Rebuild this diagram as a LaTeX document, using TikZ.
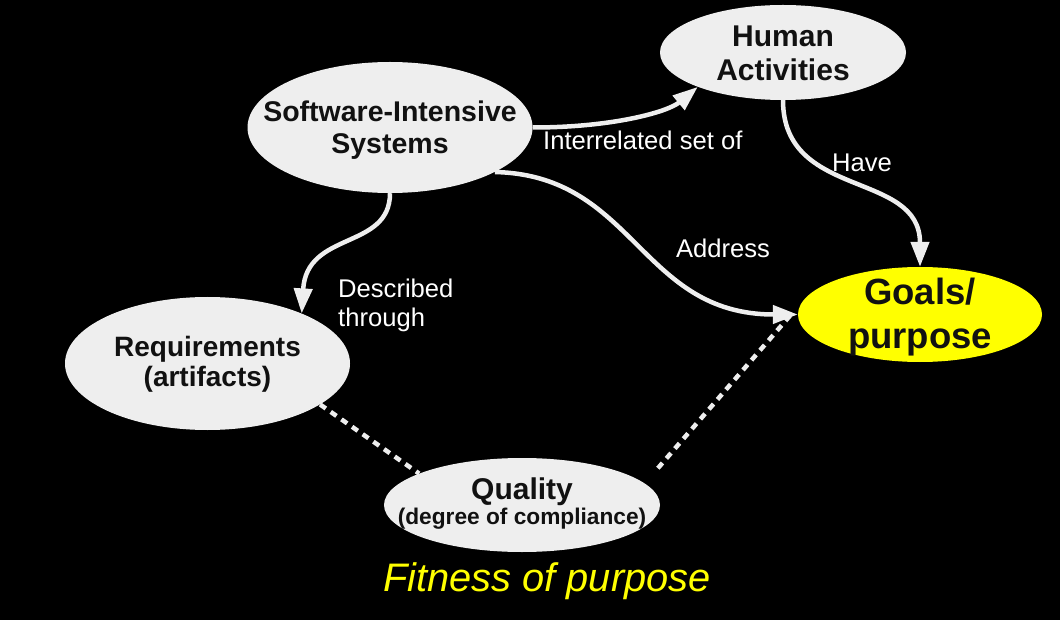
\documentclass[tikz,border=0pt]{standalone}
\usepackage{fontspec}
\setmainfont{Liberation Sans}
\usetikzlibrary{shapes.geometric,arrows.meta}
\definecolor{nodegray}{HTML}{EEEEEE}
\definecolor{txtdark}{HTML}{111111}
\definecolor{goalyellow}{HTML}{FFFF00}
\tikzset{
  ell/.style={ellipse, fill=nodegray, inner sep=0pt},
  ntext/.style={text=txtdark, inner sep=0pt},
  arr/.style={draw=nodegray, line width=4.5pt, -{Triangle[length=25pt,width=18pt]}},
  dotl/.style={draw=nodegray, line width=4.5pt, dash pattern=on 7pt off 6pt},
  lab/.style={text=white, inner sep=0pt, font=\fontsize{25.6}{29}\selectfont},
}
\begin{document}
\begin{tikzpicture}[x=1pt,y=-1pt]
\fill[black] (0,0) rectangle (1060,620);
\useasboundingbox (0,0) rectangle (1060,620);

\node[ell, minimum width=285pt, minimum height=131pt,
  label={[name=sist, ntext, yshift=-3.7pt, font=\bfseries\fontsize{28.5}{31.5}\selectfont]center:{\begin{tabular}{@{}c@{}}Software-Intensive\\Systems\end{tabular}}}]
  (sis) at (390,127.5) {};
\node[ell, minimum width=246pt, minimum height=95pt,
  label={[name=humt, ntext, yshift=-4.5pt, font=\bfseries\fontsize{30}{33.5}\selectfont]center:{\begin{tabular}{@{}c@{}}Human\\Activities\end{tabular}}}]
  (hum) at (783,52.5) {};
\node[ell, fill=goalyellow, minimum width=244pt, minimum height=95pt,
  label={[name=goalt, ntext, yshift=-3.4pt, font=\bfseries\fontsize{36.5}{43}\selectfont]center:{\begin{tabular}{@{}c@{}}Goals/\\purpose\end{tabular}}}]
  (goals) at (920,314.5) {};
\node[ell, minimum width=285pt, minimum height=133pt,
  label={[name=reqt, ntext, yshift=-2.2pt, font=\bfseries\fontsize{28}{30}\selectfont]center:{\begin{tabular}{@{}c@{}}Requirements\\(artifacts)\end{tabular}}}]
  (req) at (207.5,363.5) {};
\node[ell, minimum width=276pt, minimum height=94pt,
  label={[name=qualt, ntext, yshift=0pt, font=\bfseries\fontsize{30}{25}\selectfont]center:{\begin{tabular}{@{}c@{}}Quality\\{\fontsize{22.7}{25}\selectfont (degree of compliance)}\end{tabular}}}]
  (qual) at (522,505) {};

% arrows
\draw[arr] (sis.east) .. controls +(80,0) and +(-30,25) .. (hum.-158);
\draw[arr] (hum.south) .. controls +(0,100) and +(0,-97) .. (goals.north);
\draw[arr] (sis.-23) .. controls +(140,3) and +(-158,0) .. (goals.west);
\draw[arr] (sis.south) .. controls +(0,57) and +(5,-83) .. (req.28);

% dashed links
\draw[dotl] (req.-20) -- (qual.163);
\draw[dotl, shorten <=20pt, shorten >=19pt] (qual.10) -- (goals.173);

% labels
\node[lab, anchor=west] (l1) at (543,140) {Interrelated set of};
\node[lab] (l2) at (862,163) {Have};
\node[lab] (l3) at (723,248) {Address};
\node[lab, anchor=west, align=left] (l4) at (338,305) {Described\\through};
\node[text=goalyellow, inner sep=0pt, font=\itshape\fontsize{39.8}{45}\selectfont] (fit) at (547,581.5) {Fitness of purpose};
\end{tikzpicture}
\end{document}
